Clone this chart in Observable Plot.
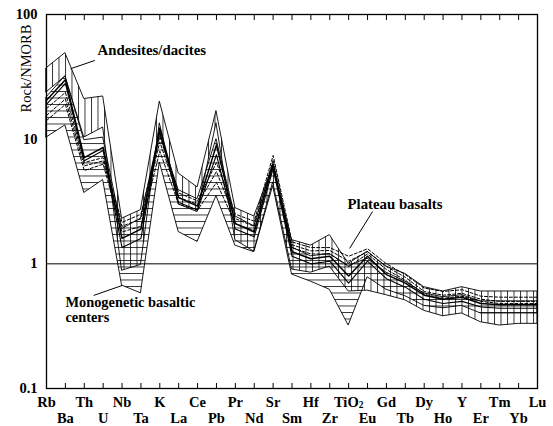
<!DOCTYPE html>
<html>
<head>
<meta charset="utf-8">
<script src="https://cdn.jsdelivr.net/npm/d3@7"></script>
<script src="https://cdn.jsdelivr.net/npm/@observablehq/plot@0.6"></script>
<style>
  body { margin: 0; background: #fff; }
  svg { display: block; }
  #chart svg, #chart svg text { font-family: "Liberation Serif", "Times New Roman", serif !important; }
</style>
</head>
<body>
<div id="chart"></div>
<script>
// Trace elements, in spider-diagram order
const elements = ["Rb","Ba","Th","U","Nb","Ta","K","La","Ce","Pb","Pr","Nd","Sr","Sm","Hf","Zr","TiO2","Eu","Gd","Tb","Dy","Ho","Y","Er","Tm","Yb","Lu"];

// Andesites/dacites field (rock / N-MORB)
const andesiteMax = [37, 49, 21, 22, 2.3, 2.7, 20, 5.3, 4.1, 16.8, 2.8, 2.4, 6.0, 1.55, 1.4, 1.7, 1.0, 1.25, 0.95, 0.83, 0.65, 0.6, 0.65, 0.6, 0.6, 0.6, 0.6];
const andesiteMin = [23.7, 31.8, 10.3, 12.4, 0.88, 0.98, 13.4, 3.0, 2.6, 13.4, 1.55, 1.25, 4.5, 0.9, 0.85, 0.95, 0.6, 0.61, 0.56, 0.51, 0.42, 0.38, 0.40, 0.34, 0.32, 0.33, 0.33];

// Monogenetic basaltic centers field
const monoMax = [21.6, 32, 9.8, 10.3, 1.9, 2.3, 11.2, 3.9, 3.3, 10, 2.4, 2.0, 6.3, 1.35, 1.15, 1.2, 0.96, 1.1, 0.85, 0.72, 0.58, 0.54, 0.56, 0.5, 0.5, 0.5, 0.5];
const monoMin = [10.3, 12.9, 3.7, 4.7, 0.67, 0.58, 6.5, 1.8, 1.5, 3.5, 1.4, 1.24, 4.2, 0.82, 0.72, 0.62, 0.32, 0.78, 0.62, 0.55, 0.46, 0.44, 0.46, 0.4, 0.4, 0.4, 0.4];

// Solid sample patterns
const basaltA = [20.5, 30, 7.1, 8.6, 1.6, 1.9, 12.3, 3.4, 2.9, 9, 2.1, 1.8, 6.3, 1.25, 1.1, 1.15, 0.8, 1.15, 0.82, 0.7, 0.56, 0.52, 0.54, 0.48, 0.47, 0.47, 0.47];
const basaltB = [19, 28, 6.7, 8.1, 1.35, 1.6, 11.5, 3.1, 2.7, 7.5, 1.9, 1.65, 5.8, 1.15, 1.0, 1.05, 0.7, 1.05, 0.76, 0.65, 0.52, 0.48, 0.5, 0.45, 0.44, 0.44, 0.44];

// Plateau basalts (dashed)
const plateau1 = [17.6, 23.7, 6.5, 7.1, 2.15, 2.5, 10.5, 3.7, 3.2, 6.5, 2.5, 2.2, 7.4, 1.5, 1.35, 1.35, 1.15, 1.32, 1.0, 0.82, 0.64, 0.6, 0.62, 0.55, 0.54, 0.54, 0.54];
const plateau2 = [15.5, 21, 6.1, 6.7, 2.0, 2.3, 9.5, 3.4, 3.0, 5.5, 2.3, 2.0, 6.8, 1.42, 1.27, 1.28, 1.05, 1.25, 0.95, 0.78, 0.6, 0.56, 0.58, 0.52, 0.5, 0.5, 0.5];
const plateau3 = [14.1, 19, 5.6, 6.3, 1.8, 2.0, 8, 3.0, 2.7, 4.5, 2.1, 1.85, 6.2, 1.35, 1.2, 1.2, 0.95, 1.2, 0.9, 0.74, 0.57, 0.53, 0.55, 0.5, 0.48, 0.48, 0.48];

const yTicks = [0.1, 1, 10, 100];

const idx = d3.range(elements.length);
const field = (lo, hi) => idx.map(i => ({i, lo: lo[i], hi: hi[i]}));
const series = (v) => idx.map(i => ({i, v: v[i]}));

const serif = "Liberation Serif, Times New Roman, serif";
const txt = {fontFamily: serif, fontSize: 14.5, fontWeight: "bold"};
const note = {...txt, fontSize: 14.8};

const solid = (v, w) => Plot.line(series(v), {x: "i", y: "v", stroke: "#000", strokeWidth: w});
const dashed = (v) => Plot.line(series(v), {x: "i", y: "v", stroke: "#000", strokeWidth: 1, strokeDasharray: "3,2"});

const chart = Plot.plot({
  width: 553,
  height: 426,
  marginLeft: 46,
  marginRight: 16,
  marginTop: 14,
  marginBottom: 38,
  style: {background: "#fff", color: "#000", overflow: "visible"},
  x: {type: "linear", domain: [0, elements.length - 1], axis: null},
  y: {type: "log", domain: [0.1, 100], axis: null},
  marks: [
    Plot.areaY(field(monoMin, monoMax), {x: "i", y1: "lo", y2: "hi", fill: "url(#hatch-h)", stroke: "#000", strokeWidth: 0.9}),
    Plot.areaY(field(andesiteMin, andesiteMax), {x: "i", y1: "lo", y2: "hi", fill: "url(#hatch-v)", stroke: "#000", strokeWidth: 0.9}),
    solid(basaltA, 1.5),
    solid(basaltB, 1.1),
    dashed(plateau1),
    dashed(plateau2),
    dashed(plateau3),
    Plot.ruleY([1], {stroke: "#000", strokeWidth: 1}),
    Plot.frame({stroke: "#000", strokeWidth: 1.3}),

    // inward ticks on top and bottom edges
    Plot.axisX({anchor: "bottom", ticks: idx.slice(1, -1), tickSize: 5, dy: -5, tickFormat: () => "", label: null}),
    Plot.axisX({anchor: "top", ticks: idx.slice(1, -1), tickSize: 5, dy: 5, tickFormat: () => "", label: null}),

    // element names, staggered on two rows
    Plot.axisX({anchor: "bottom", ticks: idx.filter(i => i % 2 === 0), tickSize: 0, tickPadding: 8, tickFormat: i => elements[i], label: null, ...txt}),
    Plot.axisX({anchor: "bottom", ticks: idx.filter(i => i % 2 === 1), tickSize: 0, tickPadding: 24, tickFormat: i => elements[i], label: null, ...txt}),

    Plot.axisY({ticks: yTicks, tickSize: 0, tickPadding: 9, tickFormat: d => String(d), label: null, ...txt}),
    Plot.text(["Rock/NMORB"], {frameAnchor: "top-left", dx: -20, dy: 54, rotate: -90, textAnchor: "middle", lineAnchor: "middle", ...txt, fontWeight: "normal"}),

    // field labels and leader lines
    Plot.text([{x: 2.7, y: 51.4, t: "Andesites/dacites"}], {x: "x", y: "y", text: "t", textAnchor: "start", lineAnchor: "middle", ...note}),
    Plot.link([{x1: 2.56, y1: 42.8, x2: 1.27, y2: 36.7}], {x1: "x1", y1: "y1", x2: "x2", y2: "y2", stroke: "#000", strokeWidth: 1}),

    Plot.text([{x: 15.94, y: 2.99, t: "Plateau basalts"}], {x: "x", y: "y", text: "t", textAnchor: "start", lineAnchor: "middle", ...note}),
    Plot.link([{x1: 17.27, y1: 2.63, x2: 16.05, y2: 1.33}], {x1: "x1", y1: "y1", x2: "x2", y2: "y2", stroke: "#000", strokeWidth: 1}),

    Plot.text([{x: 1.0, y: 0.548, t: "Monogenetic basaltic\ncenters"}], {x: "x", y: "y", text: "t", textAnchor: "start", lineAnchor: "top", lineHeight: 1.05, ...note, fontSize: 14.4}),
    Plot.link([{x1: 2.5, y1: 0.558, x2: 4, y2: monoMin[4]}], {x1: "x1", y1: "y1", x2: "x2", y2: "y2", stroke: "#000", strokeWidth: 1})
  ]
});

// hatch patterns for the two compositional fields
const svg = d3.select(chart);
const defs = svg.insert("defs", ":first-child");
defs.append("pattern")
  .attr("id", "hatch-v").attr("patternUnits", "userSpaceOnUse")
  .attr("width", 6.5).attr("height", 10)
  .append("path").attr("d", "M0.5,0V10").attr("stroke", "#000").attr("stroke-width", 0.8);
defs.append("pattern")
  .attr("id", "hatch-h").attr("patternUnits", "userSpaceOnUse")
  .attr("width", 10).attr("height", 6.5)
  .append("path").attr("d", "M0,0.5H10").attr("stroke", "#000").attr("stroke-width", 0.8);

// subscript in TiO2
svg.selectAll("text").filter(function() { return this.textContent === "TiO2"; }).each(function() {
  this.textContent = "TiO";
  d3.select(this).append("tspan").attr("dy", "0.15em").attr("font-size", "0.65em").text("2");
});

document.getElementById("chart").append(chart);
</script>
</body>
</html>
